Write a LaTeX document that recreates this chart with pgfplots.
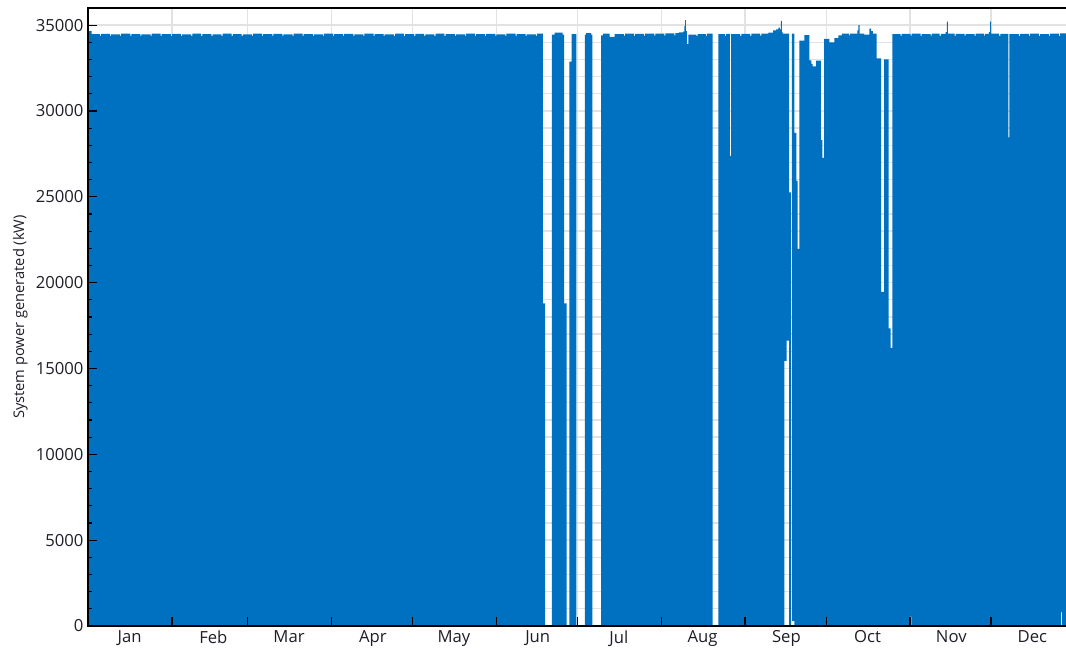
\documentclass[border=0pt]{standalone}
\usepackage{fontspec}
\setmainfont{Open Sans}
\usepackage{pgfplots}
\usepgfplotslibrary{fillbetween}
\pgfplotsset{compat=1.18}
\definecolor{pvblue}{RGB}{0,112,192}
\definecolor{gridgray}{RGB}{226,226,226}
\definecolor{labelcol}{RGB}{30,30,40}
\pgfplotsset{
  layers/mine/.define layer set={axis background,axis grid,pre main,main,axis ticks,axis lines,axis tick labels,axis descriptions,axis foreground}{
    grid style={/pgfplots/on layer=axis grid},
    tick style={/pgfplots/on layer=axis ticks},
    axis line style={/pgfplots/on layer=axis lines},
    label style={/pgfplots/on layer=axis descriptions},
    ticklabel style={/pgfplots/on layer=axis tick labels},
  },
}
\begin{document}
\begin{tikzpicture}
\begin{axis}[
  set layers=mine,
  scale only axis, width=740pt, height=463.5pt,
  at={(0,0)}, anchor=origin,
  xmin=0, xmax=365, ymin=0, ymax=36000,
  tick pos=left,
  xtick={0,31,59,90,120,151,181,212,243,273,304,334},
  xticklabels={Jan,Feb,Mar,Apr,May,Jun,Jul,Aug,Sep,Oct,Nov,Dec},
  xticklabel style={xshift=31pt},
  ytick={0,5000,10000,15000,20000,25000,30000,35000},
  minor y tick num=4,
  scaled y ticks=false,
  /pgf/number format/1000 sep={},
  /pgf/number format/assume math mode=true,
  ticklabel style={font=\fontsize{12.5}{14}\selectfont, text=labelcol},
  grid=both,
  major grid style={gridgray, line width=1pt},
  minor grid style={gridgray, line width=1pt},
  tick style={black, line width=0.9pt},
  major tick length=6.5pt,
  minor tick length=3pt,
  tick align=inside,
  axis line style={black, line width=1.1pt},
  ylabel={System power generated (kW)},
  ylabel style={at={(axis description cs:-0.0689,0.5)}, anchor=center, font=\fontsize{11}{13}\selectfont, text=labelcol},
]
% upper edge of the generated power (kW) against day of year
\addplot[name path=upper, const plot, draw=none] coordinates {
(0,34650)(1.3,34480)
(4.3,34370)(4.7,34490)
(8.1,34380)(8.5,34470)
(11.8,34370)(12.2,34500)
(15.6,34380)(16.0,34480)
(19.3,34370)(19.7,34470)
(23.1,34380)(23.5,34500)
(26.8,34370)(27.2,34480)
(30.6,34380)(31.0,34490)
(34.3,34370)(34.7,34470)
(38.1,34380)(38.5,34500)
(41.8,34370)(42.2,34480)
(45.6,34380)(46.0,34470)
(49.3,34370)(49.7,34500)
(53.1,34380)(53.5,34480)
(56.8,34370)(57.2,34470)
(60.6,34380)(61.0,34500)
(64.3,34370)(64.7,34480)
(68.1,34380)(68.5,34490)
(71.8,34370)(72.2,34470)
(75.6,34380)(76.0,34500)
(79.3,34370)(79.7,34480)
(83.1,34380)(83.5,34470)
(86.8,34370)(87.2,34500)
(90.6,34380)(91.0,34480)
(94.3,34370)(94.7,34490)
(98.1,34380)(98.5,34470)
(101.8,34370)(102.2,34500)
(105.6,34380)(106.0,34480)
(109.3,34370)(109.7,34470)
(113.1,34380)(113.5,34500)
(116.8,34370)(117.2,34480)
(120.6,34380)(121.0,34490)
(124.3,34370)(124.7,34470)
(128.1,34380)(128.5,34500)
(131.8,34370)(132.2,34480)
(135.6,34380)(136.0,34470)
(139.3,34370)(139.7,34500)
(143.1,34380)(143.5,34480)
(146.8,34370)(147.2,34490)
(150.6,34380)(151.0,34470)
(154.3,34370)(154.7,34500)
(158.1,34380)(158.5,34480)
(161.8,34370)(162.2,34470)
(165.6,34380)(166.0,34500)
(168.15,18800)(169.0,0)
(171.5,34450)(172.5,34560)(175.5,34450)(176.1,18800)(177.0,0)
(178.0,32870)(178.8,34480)(180.6,0)
(183.7,34450)(184.2,34540)(186.0,34450)(186.5,0)
(189.7,34400)(190.5,34500)(192.9,34320)(194.7,34480)
(198.2,34390)(198.6,34500)
(201.9,34390)(202.3,34490)
(205.6,34390)(206.0,34510)
(209.4,34390)(209.8,34500)
(213.1,34390)(213.5,34520)
(216.8,34400)(217.2,34540)
(218.5,34580)(220.1,34620)(220.5,34950)(220.8,35300)(221.1,34650)(221.5,33900)(222.0,34450)
(225.0,34380)(225.4,34480)
(228.5,34380)(228.9,34500)
(231.0,0)(233.1,34480)
(235.5,34380)(235.9,34490)
(237.4,27390)(237.8,34480)
(241.2,34380)(241.6,34490)
(244.9,34380)(245.3,34500)
(248.6,34390)(249.0,34510)
(251.6,34560)(253.4,34700)(254.5,34750)(255.3,34850)(255.9,34750)(256.2,35250)(256.6,34600)(256.9,34500)
(259.3,25260)(259.9,0)(260.3,34500)
(261.2,28730)(262.0,25935)(262.4,21950)(263.1,34100)(264.9,34420)
(266.8,32950)(267.5,32750)(268.0,32600)(269.3,32930)(271.0,28300)(271.6,27270)
(272.2,34200)(274.2,34000)(276.0,34250)(277.5,34400)(278.8,34500)
(281.5,34400)(281.9,34500)
(284.5,34700)(284.9,35000)(285.4,34500)(287.0,34450)
(289.0,34800)(289.6,34650)(290.3,34500)
(291.7,33060)(293.3,19470)(294.4,33000)(296.1,17340)(296.8,16200)(297.5,34480)
(300.5,34380)(300.9,34490)
(304.2,34390)(304.6,34500)
(307.9,34380)(308.3,34480)
(311.6,34390)(312.0,34500)
(315.0,34380)(315.4,34490)
(317.2,34600)(317.6,35200)(318.0,34500)
(320.5,34380)(320.9,34490)
(324.2,34390)(324.6,34480)
(327.9,34380)(328.3,34500)
(331.3,34390)(331.7,34490)
(333.2,34600)(333.6,35200)(334.0,34500)
(337.0,34380)(337.4,34490)
(340.4,28460)(340.8,34480)
(344.3,34380)(344.7,34490)
(348.0,34390)(348.4,34500)
(351.7,34380)(352.1,34480)
(355.4,34390)(355.8,34500)
(359.1,34380)(359.5,34520)
(362.5,34600)(365,34600)
};
% lower edge (non-zero where the hourly output briefly dropped out)
\addplot[name path=lower, const plot, draw=none] coordinates {
(0,0)(257.5,15450)(258.4,16620)(259.3,0)(260.3,300)(261.2,0)
(304.0,540)(304.5,0)(359.9,815)(360.3,0)(365,0)
};
\addplot[pvblue, draw=none] fill between[of=upper and lower];
\end{axis}
\pgfresetboundingbox
\path (-66.15pt,-16.5pt) rectangle (733.35pt,469.5pt);
\end{tikzpicture}
\end{document}
